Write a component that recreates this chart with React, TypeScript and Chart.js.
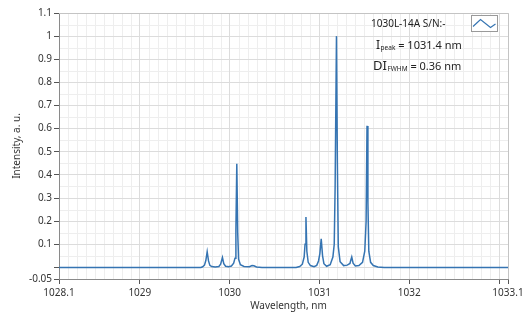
import React, { useEffect, useRef } from "react";
import { Chart, registerables } from "chart.js";

Chart.register(...registerables);

// ---- data ----
const wavelength = [
  1028.1, 1029.68, 1029.7, 1029.72, 1029.735, 1029.75, 1029.765, 1029.78, 1029.8, 1029.84,
  1029.88, 1029.9, 1029.92, 1029.935, 1029.955, 1029.99, 1030.02, 1030.045, 1030.06, 1030.07,
  1030.08, 1030.09, 1030.1, 1030.12, 1030.16, 1030.22, 1030.25, 1030.27, 1030.3, 1030.36,
  1030.74, 1030.78, 1030.81, 1030.83, 1030.84, 1030.85, 1030.86, 1030.875, 1030.9, 1030.94,
  1030.97, 1030.99, 1031.005, 1031.02, 1031.035, 1031.05, 1031.08, 1031.12, 1031.15, 1031.165,
  1031.175, 1031.19, 1031.2, 1031.21, 1031.23, 1031.27, 1031.31, 1031.34, 1031.35, 1031.36,
  1031.375, 1031.4, 1031.44, 1031.48, 1031.505, 1031.52, 1031.53, 1031.54, 1031.55, 1031.57,
  1031.6, 1031.65, 1031.72, 1033.1,
];
const intensity = [
  0, 0, 0.003, 0.01, 0.03, 0.068, 0.028, 0.009, 0.004, 0.002,
  0.004, 0.014, 0.043, 0.016, 0.005, 0.003, 0.006, 0.018, 0.04, 0.16,
  0.448, 0.15, 0.035, 0.012, 0.004, 0.003, 0.008, 0.007, 0.002, 0,
  0, 0.004, 0.014, 0.045, 0.1, 0.218, 0.07, 0.022, 0.008, 0.003,
  0.009, 0.028, 0.06, 0.124, 0.05, 0.016, 0.005, 0.012, 0.045, 0.1,
  0.35, 1.0, 0.45, 0.09, 0.025, 0.008, 0.01, 0.017, 0.032, 0.045,
  0.018, 0.006, 0.008, 0.022, 0.07, 0.2, 0.612, 0.28, 0.07, 0.022,
  0.008, 0.002, 0, 0,
];
const xTickValues = [1028.1, 1029, 1030, 1031, 1032, 1033, 1033.1];
const xTickLabels = ["1028.1", "1029", "1030", "1031", "1032", "", "1033.1"];
const yTickValues = [-0.05, 0, 0.1, 0.2, 0.3, 0.4, 0.5, 0.6, 0.7, 0.8, 0.9, 1, 1.1];
const yTickLabels = ["-0.05", "", "0.1", "0.2", "0.3", "0.4", "0.5", "0.6", "0.7", "0.8", "0.9", "1", "1.1"];
const seriesName = "1030L-14A S/N:-";
const xTitle = "Wavelength, nm";
const yTitle = "Intensity, a. u.";
const peakText = ["I", "peak", " = 1031.4 nm"];
const fwhmText = ["DI", "FWHM", " = 0.36 nm"];

const FONT = '"Noto Sans", sans-serif';
const LINE = "#3574b2";

const findLabel = (vals: number[], labels: string[], v: number) => {
  const i = vals.findIndex((t) => Math.abs(t - v) < 1e-6);
  return i >= 0 ? labels[i] : "";
};

const decor = {
  id: "decor",
  beforeDraw(chart: any) {
    const { ctx, chartArea: a, scales } = chart;
    const x = scales.x;
    const y = scales.y;
    ctx.save();
    ctx.fillStyle = "#ffffff";
    ctx.fillRect(0, 0, chart.width, chart.height);
    ctx.strokeStyle = "#eeeeee";
    ctx.lineWidth = 1;
    ctx.beginPath();
    for (let i = 1; i < 50; i++) {
      const v = 1028.1 + i * 0.1;
      if (Math.abs(v - Math.round(v)) < 1e-6) continue;
      const px = Math.round(x.getPixelForValue(v)) + 0.5;
      ctx.moveTo(px, a.top);
      ctx.lineTo(px, a.bottom);
    }
    for (let k = 1; k < 23; k++) {
      const v = -0.05 + k * 0.05;
      if (Math.abs(v * 10 - Math.round(v * 10)) < 1e-6) continue;
      const py = Math.round(y.getPixelForValue(v)) + 0.5;
      ctx.moveTo(a.left, py);
      ctx.lineTo(a.right, py);
    }
    ctx.stroke();
    ctx.restore();
  },
  afterDraw(chart: any) {
    const { ctx, chartArea: a } = chart;
    ctx.save();
    // top / right frame
    ctx.strokeStyle = "#c4c4c4";
    ctx.lineWidth = 1;
    ctx.beginPath();
    ctx.moveTo(a.left, a.top + 0.5);
    ctx.lineTo(a.right + 0.5, a.top + 0.5);
    ctx.lineTo(a.right + 0.5, a.bottom);
    ctx.stroke();

    // axis titles
    ctx.fillStyle = "#333333";
    ctx.font = `10px ${FONT}`;
    ctx.textAlign = "center";
    ctx.textBaseline = "middle";
    ctx.fillText(xTitle, (a.left + a.right) / 2 + 5, 306);
    ctx.save();
    ctx.translate(17, (a.top + a.bottom) / 2);
    ctx.rotate(-Math.PI / 2);
    ctx.fillText(yTitle, 0, 0);
    ctx.restore();

    // legend
    ctx.textAlign = "left";
    ctx.fillStyle = "#222222";
    ctx.font = `10px ${FONT}`;
    ctx.fillText(seriesName, 371, 24);
    ctx.fillStyle = "#ffffff";
    ctx.fillRect(471.5, 15.5, 26, 16);
    ctx.strokeStyle = "#9a9a9a";
    ctx.strokeRect(471.5, 15.5, 26, 16);
    ctx.strokeStyle = LINE;
    ctx.lineWidth = 1.2;
    ctx.beginPath();
    ctx.moveTo(473, 26.5);
    ctx.lineTo(480.5, 19.5);
    ctx.lineTo(490.5, 27.5);
    ctx.lineTo(495.5, 24);
    ctx.stroke();

    // annotations
    const drawRich = (parts: string[], x0: number, base: number, big: number, small: number, rest: number) => {
      ctx.textBaseline = "alphabetic";
      ctx.fillStyle = "#222222";
      let xx = x0;
      ctx.font = `${big}px ${FONT}`;
      ctx.fillText(parts[0], xx, base);
      xx += ctx.measureText(parts[0]).width + 0.5;
      ctx.font = `${small}px ${FONT}`;
      ctx.fillText(parts[1], xx, base + 1);
      xx += ctx.measureText(parts[1]).width;
      ctx.font = `${rest}px ${FONT}`;
      ctx.fillText(parts[2], xx, base);
    };
    drawRich(peakText, 376, 49, 12, 6.5, 11);
    drawRich(fwhmText, 373, 70, 13, 6.5, 11);
    ctx.restore();
  },
};

export default function App() {
  const ref = useRef<HTMLCanvasElement>(null);
  useEffect(() => {
    document.body.style.margin = "0";
    const points = wavelength.map((w, i) => ({ x: w, y: intensity[i] }));
    const chart = new Chart(ref.current as HTMLCanvasElement, {
      type: "line",
      data: {
        datasets: [
          {
            label: seriesName,
            data: points,
            borderColor: LINE,
            borderWidth: 1.5,
            pointRadius: 0,
            tension: 0,
            fill: false,
          },
        ],
      },
      options: {
        animation: false,
        responsive: false,
        layout: { padding: { left: 0, right: 21, top: 13, bottom: 0 } },
        plugins: { legend: { display: false }, tooltip: { enabled: false } },
        scales: {
          x: {
            type: "linear",
            min: 1028.1,
            max: 1033.1,
            afterBuildTicks: (s: any) => {
              s.ticks = xTickValues.map((v) => ({ value: v }));
            },
            afterFit: (s: any) => {
              s.height = 37;
            },
            ticks: {
              autoSkip: false,
              maxRotation: 0,
              padding: 3,
              color: "#333333",
              font: { family: FONT, size: 10 },
              callback: (v: any) => findLabel(xTickValues, xTickLabels, Number(v)),
            },
            grid: {
              color: "#dcdcdc",
              tickColor: "#555555",
              tickLength: 5,
              drawTicks: true,
            },
            border: { display: true, color: "#8a8a8a" },
          },
          y: {
            type: "linear",
            min: -0.05,
            max: 1.1,
            afterBuildTicks: (s: any) => {
              s.ticks = yTickValues.map((v) => ({ value: v }));
            },
            afterFit: (s: any) => {
              s.width = 59;
            },
            ticks: {
              autoSkip: false,
              padding: 2,
              color: "#333333",
              font: { family: FONT, size: 10 },
              callback: (v: any) => findLabel(yTickValues, yTickLabels, Number(v)),
            },
            grid: {
              color: "#dcdcdc",
              tickColor: "#555555",
              tickLength: 5,
              drawTicks: true,
            },
            border: { display: true, color: "#8a8a8a" },
          },
        },
      },
      plugins: [decor],
    });
    return () => chart.destroy();
  }, []);
  return (
    <div style={{ position: "absolute", left: 0, top: 0, width: 529, height: 316 }}>
      <canvas ref={ref} width={529} height={316} style={{ display: "block" }} />
    </div>
  );
}
